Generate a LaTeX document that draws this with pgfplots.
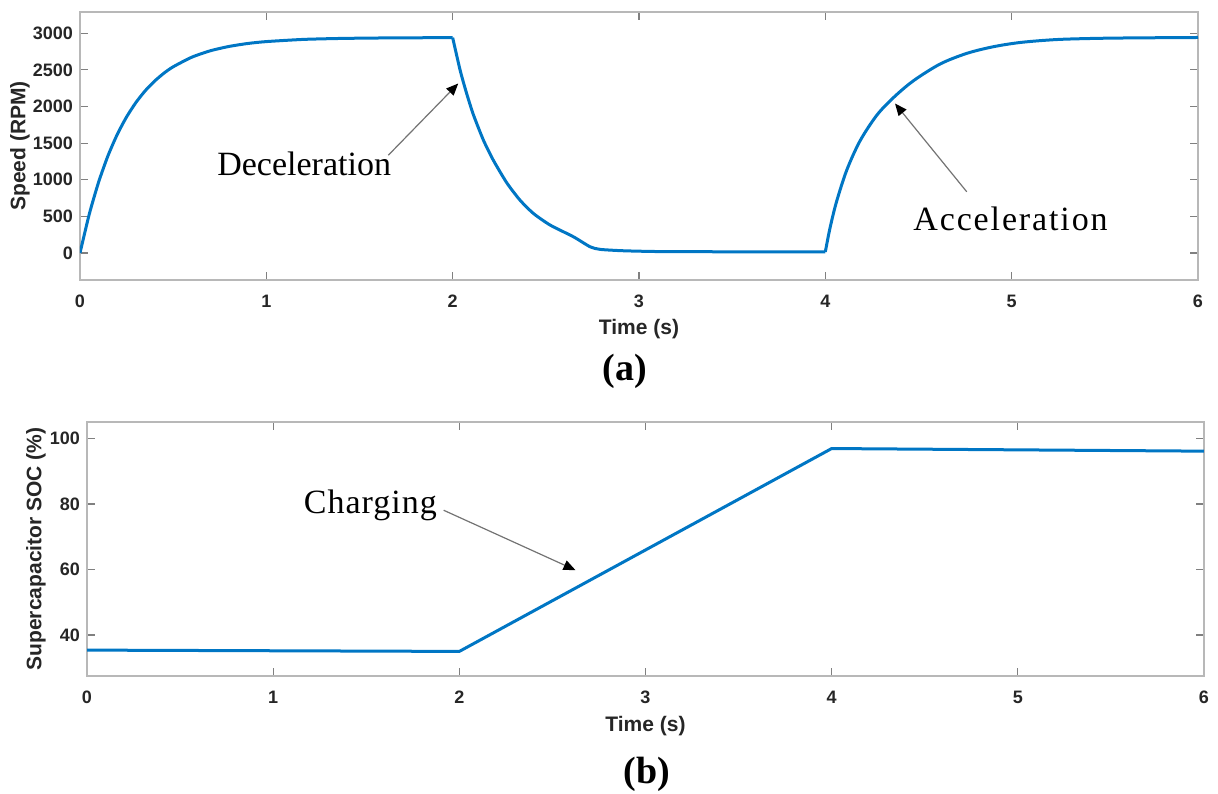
\documentclass[border=0pt]{standalone}
\usepackage{fontspec}
\setmainfont{Liberation Serif}
\setsansfont{Liberation Sans}
\usepackage{pgfplots}
\pgfplotsset{compat=1.18}
\usetikzlibrary{arrows.meta}

\definecolor{mlblue}{RGB}{0,118,196}
\definecolor{boxgray}{gray}{0.72}
\definecolor{tickgray}{gray}{0.5}
\definecolor{txtgray}{gray}{0.15}
\definecolor{arrgray}{gray}{0.45}

% motor speed (RPM) over time (s): start-up, braking, re-acceleration
\pgfplotstableread{
t v
0 0
0.05 533
0.1 969
0.15 1327
0.2 1619
0.25 1858
0.3 2054
0.35 2215
0.4 2346
0.45 2454
0.5 2542
0.6 2673
0.7 2761
0.8 2820
0.9 2860
1.0 2886
1.2 2916
1.4 2929
1.6 2935
1.8 2938
2.0 2940
}\speedup

\pgfplotstableread{
t v
2.0 2940
2.04 2496
2.075 2178
2.111 1890
2.165 1541
2.218 1268
2.29 960
2.361 723
2.433 541
2.523 382
2.648 222
2.737 86
2.791 50
2.916 31
3.113 20
3.5 17
4.0 16
}\speeddown

\pgfplotstableread{
t v
4.0 16
4.025 340
4.06 700
4.115 1132
4.186 1530
4.276 1880
4.365 2120
4.472 2350
4.616 2580
4.759 2725
4.9 2815
5.05 2875
5.25 2915
5.5 2932
5.8 2939
6.0 2942
}\speedre

% supercapacitor state of charge (%)
\pgfplotstableread{
t soc
0 35.4
2 35.0
4 96.9
6 96.1
}\soc

\tikzset{
  lblfont/.style={font=\sffamily\bfseries\fontsize{10.5bp}{12bp}\selectfont, text=txtgray},
  note/.style={font=\fontsize{17bp}{20bp}\selectfont, anchor=base},
  pointer/.style={arrgray, line width=0.6bp,
    -{Triangle[length=6bp, width=5bp, fill=black, color=black]}},
}
\pgfplotsset{
  simstyle/.style={
    scale only axis,
    axis line style={boxgray, line width=1.2bp},
    tick style={tickgray, line width=0.6bp},
    tick align=inside,
    major tick length=4bp,
    xmin=0, xmax=6, xtick={0,...,6},
    /pgf/number format/assume math mode=true,
    /pgf/number format/1000 sep={},
    ticklabel style={font=\sffamily\bfseries\fontsize{9bp}{10bp}\selectfont, text=txtgray},
    xticklabel style={yshift=-4bp},
    xlabel={Time (s)},
  },
  curve/.style={mlblue, line width=1.5bp, line join=round},
}

\begin{document}
\begin{tikzpicture}
\path[use as bounding box] (0,0) rectangle (609bp,397bp);

% (a) speed
\begin{axis}[simstyle,
  at={(40bp,257bp)}, anchor=south west,
  width=559bp, height=134bp,
  ymin=-368, ymax=3290,
  ytick={0,500,...,3000},
  ylabel={Speed (RPM)},
  every axis x label/.style={at={(axis description cs:0.5,-0.1828)}, anchor=center, lblfont},
  every axis y label/.style={at={(axis description cs:-0.0537,0.5)}, rotate=90, anchor=center, lblfont},
]
\addplot[curve, smooth, tension=0.4] table[x=t, y=v] {\speedup};
\addplot[curve, smooth, tension=0.4] table[x=t, y=v] {\speeddown};
\addplot[curve, smooth, tension=0.5] table[x=t, y=v] {\speedre};
\draw[pointer] (axis cs:1.655,1336) -- (axis cs:2.030,2314);
\node[note] at (axis cs:1.203,1064) {Deceleration};
\draw[pointer] (axis cs:4.759,836) -- (axis cs:4.374,2041);
\node[note] at (axis cs:4.994,314) {\addfontfeature{LetterSpace=5.5}Acceleration};
\end{axis}

% (b) supercapacitor SOC
\begin{axis}[simstyle,
  at={(43.5bp,59bp)}, anchor=south west,
  width=558.5bp, height=127bp,
  ymin=27.5, ymax=105,
  ytick={40,60,80,100},
  ylabel={Supercapacitor SOC (\%)},
  every axis x label/.style={at={(axis description cs:0.5,-0.1969)}, anchor=center, lblfont},
  every axis y label/.style={at={(axis description cs:-0.0457,0.5)}, rotate=90, anchor=center, lblfont},
]
\addplot[curve] table[x=t, y=soc] {\soc};
\draw[pointer] (axis cs:1.916,78.07) -- (axis cs:2.624,59.8);
\node[note] at (axis cs:1.522,77.07) {\addfontfeature{LetterSpace=3}Charging};
\end{axis}

\node[font=\bfseries\fontsize{19bp}{22bp}\selectfont] at (312.5bp,211.5bp) {(a)};
\node[font=\bfseries\fontsize{19bp}{22bp}\selectfont] at (323.5bp,10bp) {(b)};
\end{tikzpicture}
\end{document}
